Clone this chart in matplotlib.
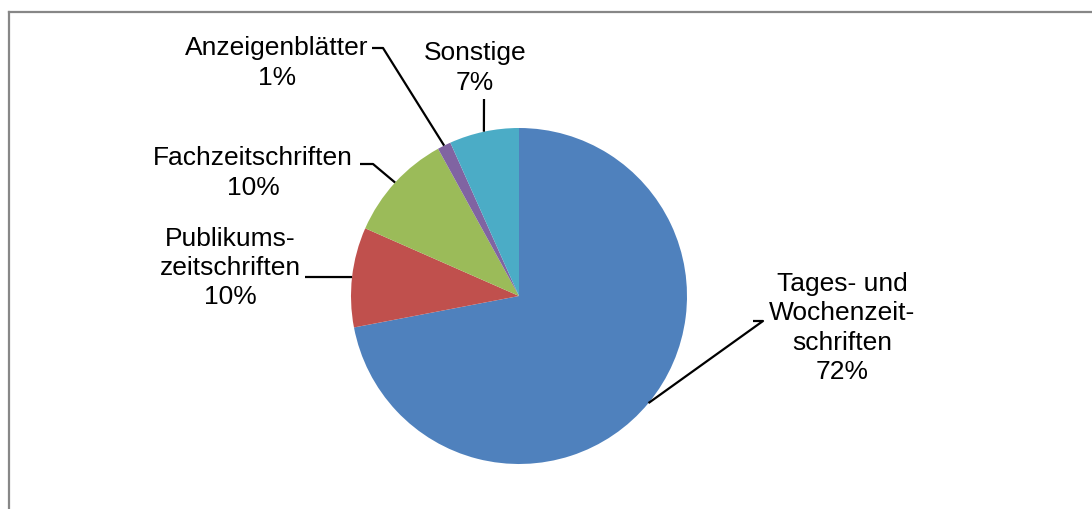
import numpy as np
import matplotlib
matplotlib.use("Agg")
import matplotlib.pyplot as plt
from matplotlib.lines import Line2D

categories = ["Tages- und\nWochenzeit-\nschriften", "Publikums-\nzeitschriften",
              "Fachzeitschriften", "Anzeigenblätter", "Sonstige"]
values = [72.0, 9.6, 10.4, 1.3, 6.7]
colors = ["#4F81BD", "#C0504D", "#9BBB59", "#8064A2", "#4BACC6"]

W, H = 1092, 509
plt.rcParams['font.family'] = ['Liberation Sans', 'DejaVu Sans']

fig = plt.figure(figsize=(W / 100, H / 100), dpi=100)
ax = fig.add_axes([0, 0, 1, 1])

def P(x, y):
    return (x, H - y)

cx, cy = P(519, 296)
R = 168
wedges, _ = ax.pie(values, colors=colors, startangle=90, counterclock=False,
                   center=(cx, cy), radius=R, frame=True,
                   wedgeprops=dict(linewidth=0))
ax.set_xlim(0, W)
ax.set_ylim(0, H)
ax.set_aspect('equal')
ax.axis('off')

# label layout: text center, elbow point(s) (pixel coords)
layout = [
    dict(text=(842, 328), path=[(763, 321), (753, 321)]),
    dict(text=(230, 268), path=[(305, 277)]),
    dict(text=(253, 173), path=[(373, 164), (360, 164)]),
    dict(text=(277, 63), path=[(383, 48), (372, 48)]),
    dict(text=(475, 68), path=[(484, 99)]),
]

total = sum(values)
cum = 0.0
for cat, v, lay in zip(categories, values, layout):
    mid = 90 - (cum + v / 2) / total * 360
    cum += v
    ex = cx + R * np.cos(np.radians(mid))
    ey = cy + R * np.sin(np.radians(mid))
    pts = [(ex, ey)] + [P(*p) for p in lay['path']]
    xs, ys = zip(*pts)
    ax.plot(xs, ys, color='black', lw=1.6, solid_capstyle='butt', zorder=3)
    tx, ty = P(*lay['text'])
    ax.text(tx, ty, f"{cat}\n{round(v):d}%", ha='center', va='center',
            fontsize=19, color='black', linespacing=1.28)

# chart border (partially visible)
gray = '#878787'
fig.add_artist(Line2D([8.5 / W, 8.5 / W], [0, 1 - 12 / H], color=gray, lw=1.6,
                      transform=fig.transFigure))
fig.add_artist(Line2D([8.5 / W, 1], [1 - 12 / H, 1 - 12 / H], color=gray, lw=1.6,
                      transform=fig.transFigure))

fig.savefig("out.png", dpi=100, facecolor='white')
